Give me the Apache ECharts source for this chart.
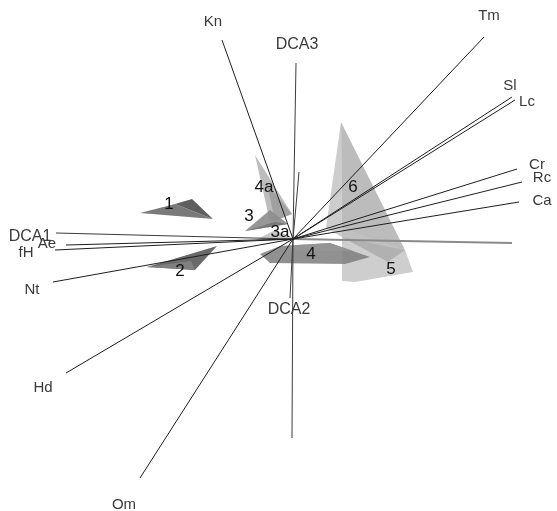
<!DOCTYPE html>
<html>
<head>
<meta charset="utf-8">
<script src="https://cdn.jsdelivr.net/npm/echarts@6/dist/echarts.min.js"></script>
<style>
  html, body { margin: 0; padding: 0; background: #fff; }
  #chart { width: 557px; height: 511px; }
</style>
</head>
<body>
<div id="chart"></div>
<script>
// Environmental vectors (projected DCA scores)
const varNames = ['Kn', 'Tm', 'Sl', 'Lc', 'Cr', 'Rc', 'Ca', 'Ae', 'fH', 'Nt', 'Hd', 'Om'];
const varX = [-0.71, 1.91, 2.19, 2.22, 2.24, 2.29, 2.26, -2.27, -2.38, -2.40, -2.27, -1.53];
const varY = [1.99, 2.02, 1.42, 1.39, 0.70, 0.57, 0.37, -0.06, -0.11, -0.43, -1.34, -2.39];

// Ordination axes: positive end (labelled) and negative end
const axisNames = ['DCA1', 'DCA2', 'DCA3'];
const axisPosX = [-2.37, -0.03, 0.03];
const axisPosY = [0.06, -0.59, 1.76];
const axisNegX = [2.19, 0.06, -0.01];
const axisNegY = [-0.04, 0.67, -1.99];

// Group hull faces
const face1a = [[-1.53, 0.26], [-1.18, 0.35], [-0.80, 0.20]];
const face1b = [[-1.18, 0.35], [-1.01, 0.40], [-0.80, 0.20]];
const face2a = [[-1.46, -0.28], [-0.76, -0.07], [-0.98, -0.31]];
const face2b = [[-1.46, -0.28], [-1.02, -0.22], [-0.98, -0.31]];
const face3a = [[-0.48, 0.08], [-0.23, 0.29], [-0.05, 0.15]];
const face3b = [[-0.48, 0.08], [-0.18, 0.17], [-0.05, 0.15]];
const face3aa = [[-0.37, -0.01], [-0.18, 0.09], [0.00, 0.01]];
const face4a = [[-0.33, -0.15], [-0.13, -0.07], [0.37, -0.04], [0.77, -0.18], [0.52, -0.25], [-0.23, -0.24]];
const face4b = [[-0.13, -0.07], [0.37, -0.04], [0.60, -0.12], [0.10, -0.12]];
const face4aa = [[-0.38, 0.84], [-0.01, 0.25], [-0.23, 0.17]];
const face4ab = [[-0.26, 0.55], [-0.01, 0.25], [-0.18, 0.18]];
const face5a = [[0.49, 0.11], [1.12, -0.11], [1.20, -0.33], [0.62, -0.43], [0.49, -0.42]];
const face5b = [[0.49, 0.02], [1.12, -0.11], [0.95, -0.23]];
const face6a = [[0.48, 1.17], [0.33, 0.11], [0.49, 0.02]];
const face6b = [[0.48, 1.17], [0.49, 0.02], [1.12, -0.11]];

// Group labels at hull centres
const groupNames = ['1', '2', '3', '4a', '3a', '4', '5', '6'];
const groupX = [-1.24, -1.13, -0.44, -0.29, -0.13, 0.18, 0.98, 0.60];
const groupY = [0.35, -0.32, 0.23, 0.52, 0.07, -0.15, -0.30, 0.52];

// Drawing styles for each face (back to front)
const faces = [
  { pts: face6a, fill: '#c4c4c4', op: 0.85 },
  { pts: face6b, fill: '#b0b0b0', op: 0.85 },
  { pts: face5a, fill: '#c2c2c2', op: 0.8 },
  { pts: face5b, fill: '#9e9e9e', op: 0.6 },
  { pts: face4a, fill: '#7e7e7e', op: 0.85 },
  { pts: face4b, fill: '#959595', op: 0.7 },
  { pts: face4aa, fill: '#b2b2b2', op: 0.85 },
  { pts: face4ab, fill: '#9a9a9a', op: 0.8 },
  { pts: face3a, fill: '#8c8c8c', op: 0.9 },
  { pts: face3b, fill: '#767676', op: 0.9 },
  { pts: face3aa, fill: '#bdbdbd', op: 0.85 },
  { pts: face1a, fill: '#7a7a7a', op: 1 },
  { pts: face1b, fill: '#5f5f5f', op: 1 },
  { pts: face2a, fill: '#6a6a6a', op: 1 },
  { pts: face2b, fill: '#808080', op: 1 }
];

// Pixel offsets of text labels from the end of their line
const labelOffset = {
  Kn: [-9, -18], Tm: [5, -21], Sl: [-2, -11], Lc: [12, 2], Cr: [20, -4],
  Rc: [20, -4], Ca: [23, -1], Ae: [-19, -1], fH: [-29, 3], Nt: [-21, 8],
  Hd: [-23, 15], Om: [-16, 27], DCA1: [-26, 4], DCA2: [-1, 12], DCA3: [1, -18]
};

const FONT = '"Liberation Sans", Arial, sans-serif';

const segments = [];
axisNames.forEach((n, i) => {
  segments.push({ x: axisPosX[i], y: axisPosY[i], name: n, size: 16, color: '#3c3c3c', w: 1 });
  segments.push({ x: axisNegX[i], y: axisNegY[i], name: '', color: i === 0 ? '#8a8a8a' : '#3c3c3c', w: i === 0 ? 2 : 1 });
});
varNames.forEach((n, i) => {
  segments.push({ x: varX[i], y: varY[i], name: n, size: 15, color: '#1e1e1e', w: 1 });
});

const chart = echarts.init(document.getElementById('chart'), null, { renderer: 'canvas' });
chart.setOption({
  animation: false,
  backgroundColor: '#ffffff',
  grid: { left: 0, right: 0, top: 0, bottom: 0 },
  xAxis: { type: 'value', min: -2.93, max: 2.64, show: false },
  yAxis: { type: 'value', min: -2.72, max: 2.39, show: false },
  series: [
    {
      type: 'custom',
      z: 1,
      data: faces.map((f, i) => [f.pts[0][0], f.pts[0][1], i]),
      renderItem: function (params, api) {
        const f = faces[params.dataIndex];
        return {
          type: 'polygon',
          shape: { points: f.pts.map(p => api.coord(p)) },
          style: { fill: f.fill, opacity: f.op }
        };
      }
    },
    {
      type: 'custom',
      z: 2,
      data: segments.map(s => [s.x, s.y]),
      renderItem: function (params, api) {
        const s = segments[params.dataIndex];
        const c0 = api.coord([0, 0]);
        const c1 = api.coord([s.x, s.y]);
        const children = [{
          type: 'line',
          shape: { x1: c0[0], y1: c0[1], x2: c1[0], y2: c1[1] },
          style: { stroke: s.color, lineWidth: s.w }
        }];
        if (s.name) {
          const off = labelOffset[s.name] || [0, 0];
          children.push({
            type: 'text',
            x: c1[0] + off[0],
            y: c1[1] + off[1],
            style: {
              text: s.name, fill: '#3a3a3a', font: s.size + 'px ' + FONT,
              align: 'center', verticalAlign: 'middle'
            }
          });
        }
        return { type: 'group', children: children };
      }
    },
    {
      type: 'custom',
      z: 3,
      data: groupNames.map((n, i) => [groupX[i], groupY[i]]),
      renderItem: function (params, api) {
        const c = api.coord([groupX[params.dataIndex], groupY[params.dataIndex]]);
        return {
          type: 'text',
          x: c[0], y: c[1],
          style: {
            text: groupNames[params.dataIndex], fill: '#111111', font: '17px ' + FONT,
            align: 'center', verticalAlign: 'middle'
          }
        };
      }
    }
  ]
});
</script>
</body>
</html>
